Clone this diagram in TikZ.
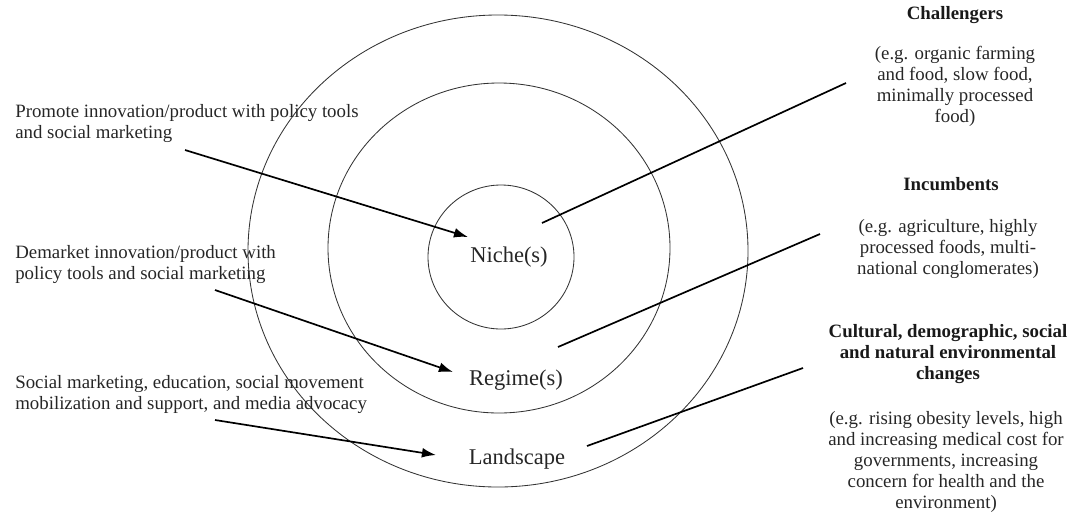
\documentclass[tikz,border=0pt]{standalone}
\usepackage{fontspec}
\setmainfont{Liberation Serif}
\usetikzlibrary{arrows.meta,positioning}

\begin{document}
\begin{tikzpicture}[x=0.025cm,y=-0.025cm,
    ring/.style={draw=black!80,line width=0.6pt},
    pointer/.style={line width=1.2pt,-{Latex[length=10pt,width=7pt]}},
    tie/.style={line width=1.2pt},
    lvl/.style={font=\fontsize{16}{18}\selectfont,inner sep=0pt,anchor=base,text=black!85},
    note/.style={font=\fontsize{13.4}{15}\selectfont,align=left,inner sep=0pt,anchor=north west,text=black!85},
    head/.style={font=\bfseries\fontsize{13.4}{15}\selectfont,align=center,inner sep=0pt,anchor=north,text=black!90},
    eg/.style={font=\fontsize{13.4}{15}\selectfont,align=center,inner sep=0pt,anchor=north,text=black!85},
]
\useasboundingbox (0,0) rectangle (1079,515);

% the three rings
\draw[ring] (498,251) ellipse [x radius=250,y radius=236];
\draw[ring] (499,248) ellipse [x radius=171,y radius=165];
\draw[ring] (501,257) ellipse [x radius=73,y radius=72];

% level labels
\node[lvl] (niche) at (509,262) {Niche(s)};
\node[lvl] (regime) at (516,385) {Regime(s)};
\node[lvl] (landscape) at (517,464) {Landscape};

% policy texts on the left
\node[note] (promote) at (15,104) {Promote innovation/product with policy tools\\and social marketing};
\node[note] (demarket) at (15,245) {Demarket innovation/product with\\policy tools and social marketing};
\node[note] (socmark) at (15,375) {Social marketing, education, social movement\\mobilization and support, and media advocacy};

% actors on the right
\node[head] (challengers) at (955,6) {Challengers};
\node[eg] (chalEx) at (955,46) {(e.g. organic farming\\and food, slow food,\\minimally processed\\food)};
\node[head] (incumbents) at (951,177) {Incumbents};
\node[eg] (incEx) at (948,219) {(e.g. agriculture, highly\\processed foods, multi-\\national conglomerates)};
\node[head] (cultural) at (948,324) {Cultural, demographic, social\\and natural environmental\\changes};
\node[eg] (culEx) at (946,411) {(e.g. rising obesity levels, high\\and increasing medical cost for\\governments, increasing\\concern for health and the\\environment)};

% arrow ends
\coordinate (pStart) at (185,150);
\coordinate (pEnd) at (468,237);
\coordinate (dStart) at (215,290);
\coordinate (dEnd) at (453,372);
\coordinate (sStart) at (215,420);
\coordinate (sEnd) at (436,455);
\coordinate (cIn) at (542,223);
\coordinate (cOut) at (846,83);
\coordinate (iIn) at (558,347);
\coordinate (iOut) at (820,234);
\coordinate (lIn) at (587,446);
\coordinate (lOut) at (803,368);

\draw[pointer] (pStart) -- (pEnd);
\draw[pointer] (dStart) -- (dEnd);
\draw[pointer] (sStart) -- (sEnd);
\draw[tie] (cIn) -- (cOut);
\draw[tie] (iIn) -- (iOut);
\draw[tie] (lIn) -- (lOut);
\end{tikzpicture}
\end{document}
